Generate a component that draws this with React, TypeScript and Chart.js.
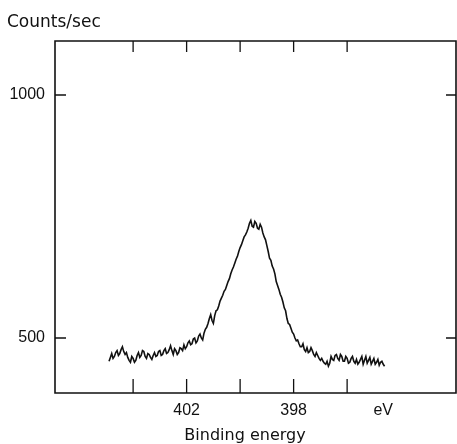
import React, { useEffect, useRef } from "react";
import { Chart, registerables } from "chart.js";

Chart.register(...registerables);

// Binding energy (eV) of each sample
const energies: number[] = [
  404.9, 404.85, 404.8, 404.75, 404.7, 404.65, 404.6, 404.55, 404.5, 404.45,
  404.4, 404.35, 404.3, 404.25, 404.2, 404.15, 404.1, 404.05, 404.0, 403.95,
  403.9, 403.85, 403.8, 403.75, 403.7, 403.65, 403.6, 403.55, 403.5, 403.45,
  403.4, 403.35, 403.3, 403.25, 403.2, 403.15, 403.1, 403.05, 403.0, 402.95,
  402.9, 402.85, 402.8, 402.75, 402.7, 402.65, 402.6, 402.55, 402.5, 402.45,
  402.4, 402.35, 402.3, 402.25, 402.2, 402.15, 402.1, 402.05, 402.0, 401.95,
  401.9, 401.85, 401.8, 401.75, 401.7, 401.65, 401.6, 401.55, 401.5, 401.45,
  401.4, 401.35, 401.3, 401.25, 401.2, 401.15, 401.1, 401.05, 401.0, 400.95,
  400.9, 400.85, 400.8, 400.75, 400.7, 400.65, 400.6, 400.55, 400.5, 400.45,
  400.4, 400.35, 400.3, 400.25, 400.2, 400.15, 400.1, 400.05, 400.0, 399.95,
  399.9, 399.85, 399.8, 399.75, 399.7, 399.65, 399.6, 399.55, 399.5, 399.45,
  399.4, 399.35, 399.3, 399.25, 399.2, 399.15, 399.1, 399.05, 399.0, 398.95,
  398.9, 398.85, 398.8, 398.75, 398.7, 398.65, 398.6, 398.55, 398.5, 398.45,
  398.4, 398.35, 398.3, 398.25, 398.2, 398.15, 398.1, 398.05, 398.0, 397.95,
  397.9, 397.85, 397.8, 397.75, 397.7, 397.65, 397.6, 397.55, 397.5, 397.45,
  397.4, 397.35, 397.3, 397.25, 397.2, 397.15, 397.1, 397.05, 397.0, 396.95,
  396.9, 396.85, 396.8, 396.75, 396.7, 396.65, 396.6, 396.55, 396.5, 396.45,
  396.4, 396.35, 396.3, 396.25, 396.2, 396.15, 396.1, 396.05, 396.0, 395.95,
  395.9, 395.85, 395.8, 395.75, 395.7, 395.65, 395.6, 395.55, 395.5, 395.45,
  395.4, 395.35, 395.3, 395.25, 395.2, 395.15, 395.1, 395.05, 395.0, 394.95,
  394.9, 394.85, 394.8, 394.75, 394.7, 394.65, 394.6,
];

// Counts/sec
const counts: number[] = [
  452, 460, 468, 458, 462, 470, 474, 464, 468, 476,
  482, 472, 466, 470, 460, 454, 450, 462, 458, 450,
  454, 464, 470, 460, 464, 474, 472, 462, 458, 468,
  466, 460, 456, 464, 470, 462, 464, 472, 474, 464,
  466, 474, 478, 468, 470, 476, 484, 474, 466, 478,
  474, 466, 470, 480, 478, 474, 486, 478, 482, 490,
  494, 486, 488, 498, 500, 490, 494, 504, 508, 500,
  496, 510, 518, 522, 530, 540, 548, 536, 530, 546,
  556, 558, 566, 576, 582, 588, 596, 600, 608, 616,
  622, 632, 640, 646, 654, 662, 668, 678, 686, 692,
  700, 708, 712, 718, 726, 736, 742, 730, 728, 740,
  736, 726, 724, 734, 728, 716, 708, 702, 690, 678,
  664, 660, 648, 642, 632, 616, 608, 600, 590, 584,
  574, 562, 556, 540, 530, 528, 520, 512, 508, 500,
  494, 496, 488, 482, 482, 488, 476, 472, 480, 470,
  472, 480, 474, 466, 462, 470, 464, 458, 454, 458,
  452, 448, 446, 452, 442, 448, 462, 456, 454, 464,
  466, 458, 454, 466, 462, 452, 452, 462, 458, 448,
  450, 458, 462, 452, 448, 456, 446, 450, 456, 462,
  446, 454, 462, 448, 454, 460, 446, 452, 458, 446,
  450, 456, 444, 450, 452, 446, 442,
];

// Axis marks
const xTickMarks: number[] = [404, 402, 400, 398, 396];
const xLabelValues: number[] = [402, 398, 394.65];
const xLabelTexts: string[] = ["402", "398", "eV"];
const yTickMarks: number[] = [500, 1000];
const yLabelTexts: string[] = ["500", "1000"];

const xTitle = "Binding energy";
const yTitle = "Counts/sec";

const INK = "#111";
const TITLE_FONT = '"DejaVu Sans", sans-serif';
const TICK_FONT = '"Liberation Sans", sans-serif';

const framePlugin = {
  id: "frameTicks",
  afterDatasetsDraw(chart: any) {
    const { ctx, chartArea, scales } = chart;
    const { left, right, top, bottom } = chartArea;
    ctx.save();
    ctx.strokeStyle = INK;
    ctx.lineWidth = 1.6;
    ctx.beginPath();
    ctx.rect(left, top, right - left, bottom - top);
    ctx.stroke();
    ctx.lineWidth = 1.3;
    ctx.beginPath();
    for (const v of xTickMarks) {
      const px = scales.x.getPixelForValue(v);
      ctx.moveTo(px, bottom);
      ctx.lineTo(px, bottom - 14);
      ctx.moveTo(px, top);
      ctx.lineTo(px, top + 11);
    }
    for (const v of yTickMarks) {
      const py = scales.y.getPixelForValue(v);
      ctx.moveTo(left, py);
      ctx.lineTo(left + 11, py);
      ctx.moveTo(right, py);
      ctx.lineTo(right - 10, py);
    }
    ctx.stroke();
    ctx.fillStyle = INK;
    ctx.textBaseline = "alphabetic";
    ctx.textAlign = "left";
    ctx.font = `17px ${TITLE_FONT}`;
    ctx.fillText(yTitle, 7, 27);
    ctx.textAlign = "center";
    ctx.font = `16px ${TITLE_FONT}`;
    ctx.fillText(xTitle, 245, 440);
    ctx.restore();
  },
};

export default function App() {
  const canvasRef = useRef<HTMLCanvasElement | null>(null);

  useEffect(() => {
    if (!canvasRef.current) return;
    const points = energies.map((e, i) => ({ x: e, y: counts[i] }));
    const chart = new Chart(canvasRef.current, {
      type: "line",
      data: {
        datasets: [
          {
            data: points,
            borderColor: INK,
            borderWidth: 1.6,
            pointRadius: 0,
            tension: 0,
            fill: false,
          },
        ],
      },
      options: {
        animation: false,
        responsive: false,
        maintainAspectRatio: false,
        layout: { padding: { top: 41, right: 1, left: 0, bottom: 0 } },
        plugins: { legend: { display: false }, tooltip: { enabled: false } },
        scales: {
          x: {
            type: "linear",
            reverse: true,
            min: 391.93,
            max: 406.92,
            grid: { display: false, drawTicks: false },
            border: { display: false },
            afterBuildTicks: (scale: any) => {
              scale.ticks = xLabelValues.map((v) => ({ value: v }));
            },
            afterFit: (scale: any) => {
              scale.height = 51;
            },
            ticks: {
              autoSkip: false,
              maxRotation: 0,
              padding: 8,
              color: INK,
              font: { family: TICK_FONT, size: 16 },
              callback: (_v: any, i: number) => xLabelTexts[i],
            },
          },
          y: {
            type: "linear",
            min: 386.8,
            max: 1111.1,
            grid: { display: false, drawTicks: false },
            border: { display: false },
            afterBuildTicks: (scale: any) => {
              scale.ticks = yTickMarks.map((v) => ({ value: v }));
            },
            afterFit: (scale: any) => {
              scale.width = 55;
            },
            ticks: {
              autoSkip: false,
              padding: 10,
              color: INK,
              font: { family: TICK_FONT, size: 16 },
              callback: (_v: any, i: number) => yLabelTexts[i],
            },
          },
        },
      },
      plugins: [framePlugin],
    });
    return () => chart.destroy();
  }, []);

  return (
    <div
      style={{
        position: "fixed",
        left: 0,
        top: 0,
        width: 457,
        height: 444,
        background: "#fff",
      }}
    >
      <canvas ref={canvasRef} width={457} height={444} />
    </div>
  );
}
